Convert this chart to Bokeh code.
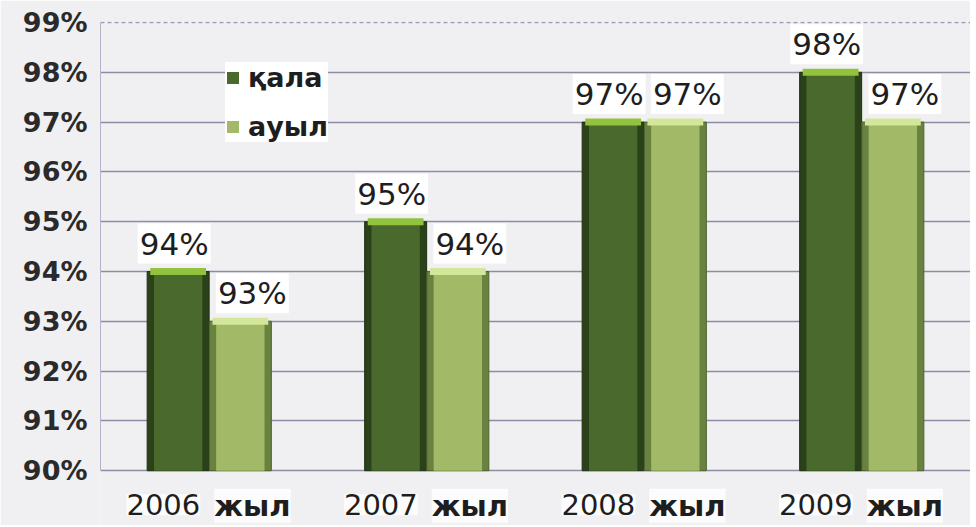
from bokeh.plotting import figure
from bokeh.models import (FactorRange, Range1d, ColumnDataSource, FixedTicker,
                          PrintfTickFormatter, Legend, LegendItem, Span)
from bokeh.transform import dodge
from bokeh.core.properties import value
from bokeh.embed import file_html
from bokeh.resources import INLINE

years = ["2006", "2007", "2008", "2009"]
year_word = "жыл"
qala = [94, 95, 97, 98]
auyl = [93, 94, 97, 97]
series_names = ["қала", "ауыл"]
y_ticks = [90, 91, 92, 93, 94, 95, 96, 97, 98, 99]
y_min, y_max = 90, 99

src = ColumnDataSource(dict(
    years=years,
    qala=qala,
    auyl=auyl,
    qala_txt=[f"{v}%" for v in qala],
    auyl_txt=[f"{v}%" for v in auyl],
    word=[year_word] * len(years),
    base=[y_min] * len(years),
))

BG = "#f0f0f3"
p = figure(x_range=FactorRange(*years, range_padding=0), y_range=Range1d(88.9, y_max + 0.02),
           width=970, height=525, output_backend="svg", toolbar_location=None,
           min_border_left=100, min_border_right=0, min_border_top=21, min_border_bottom=0)
p.border_fill_color = BG
p.background_fill_color = BG
p.outline_line_color = None

FONT = "DejaVu Sans"
BW = 0.285
OFF = 0.143

# қала bars
r_q_outer = p.vbar(x=dodge("years", -OFF, range=p.x_range), top="qala", bottom=y_min, width=BW,
                   source=src, fill_color="#2b4119", line_color="#1f3012", line_width=1)
r_q = p.vbar(x=dodge("years", -OFF, range=p.x_range), top="qala", bottom=y_min, width=BW * 0.78,
             source=src, fill_color="#4a6a2d", line_color=None)
p.rect(x=dodge("years", -OFF, range=p.x_range), y="qala", width=BW * 0.9, height=7,
       height_units="screen", source=src, fill_color="#93c23f", line_color=None)
# ауыл bars
r_a_outer = p.vbar(x=dodge("years", OFF, range=p.x_range), top="auyl", bottom=y_min, width=BW,
                   source=src, fill_color="#6a8240", line_color="#4e6330", line_width=1)
r_a = p.vbar(x=dodge("years", OFF, range=p.x_range), top="auyl", bottom=y_min, width=BW * 0.78,
             source=src, fill_color="#a2ba67", line_color=None)
p.rect(x=dodge("years", OFF, range=p.x_range), y="auyl", width=BW * 0.9, height=7,
       height_units="screen", source=src, fill_color="#d3e79a", line_color=None)

# value labels
for col, off, xo in (("qala", -OFF, -4), ("auyl", OFF, 12)):
    p.text(x=dodge("years", off, range=p.x_range), y=col, text=col + "_txt", source=src,
           text_font=value(FONT), text_font_size="31px", text_color="#1e1e1e",
           text_align="center", text_baseline="bottom", x_offset=xo, y_offset=-8,
           background_fill_color="white", padding=2)

# x category labels: year (regular) + word (bold), below the 90% line
p.text(x="years", y="base", text="years", source=src, x_offset=-9, y_offset=34,
       text_align="right", text_baseline="middle", text_font=value(FONT),
       text_font_size="29px", text_color="#1e1e1e",
       background_fill_color="white", background_fill_alpha=0.8)
p.text(x="years", y="base", text="word", source=src, x_offset=5, y_offset=35,
       text_align="left", text_baseline="middle", text_font=value(FONT),
       text_font_style="bold", text_font_size="29px", text_color="#1e1e1e",
       background_fill_color="white", background_fill_alpha=0.8)

# axes
p.xaxis.visible = False
p.yaxis.ticker = FixedTicker(ticks=y_ticks)
p.yaxis.bounds = (y_min, y_max)
p.yaxis.formatter = PrintfTickFormatter(format="%d%%")
p.yaxis.major_label_text_font = FONT
p.yaxis.major_label_text_font_style = "bold"
p.yaxis.major_label_text_font_size = "27px"
p.yaxis.major_label_text_color = "#2a2a2a"
p.yaxis.major_tick_line_color = None
p.yaxis.minor_tick_line_color = None
p.yaxis.axis_line_color = "#b4b4c8"
p.yaxis.major_label_standoff = 7

p.xgrid.grid_line_color = None
p.ygrid.ticker = FixedTicker(ticks=y_ticks[:-1])
p.ygrid.grid_line_color = "#8c8ca4"
p.ygrid.grid_line_width = 1.3
p.add_layout(Span(location=y_max, dimension="width", line_color="#9c9cb4",
                  line_width=1.3, line_dash="4 3", level="underlay"))

legend = Legend(items=[LegendItem(label=series_names[0], renderers=[r_q]),
                       LegendItem(label=series_names[1], renderers=[r_a])],
                location=(125, 383), label_text_font=FONT, label_text_font_style="bold",
                label_text_font_size="27px", label_text_color="#1e1e1e",
                glyph_width=15, glyph_height=15, spacing=18, padding=10, label_standoff=8,
                background_fill_color="white", background_fill_alpha=1,
                border_line_color=None)
p.add_layout(legend)

open("out.html", "w").write(file_html(p, INLINE))
